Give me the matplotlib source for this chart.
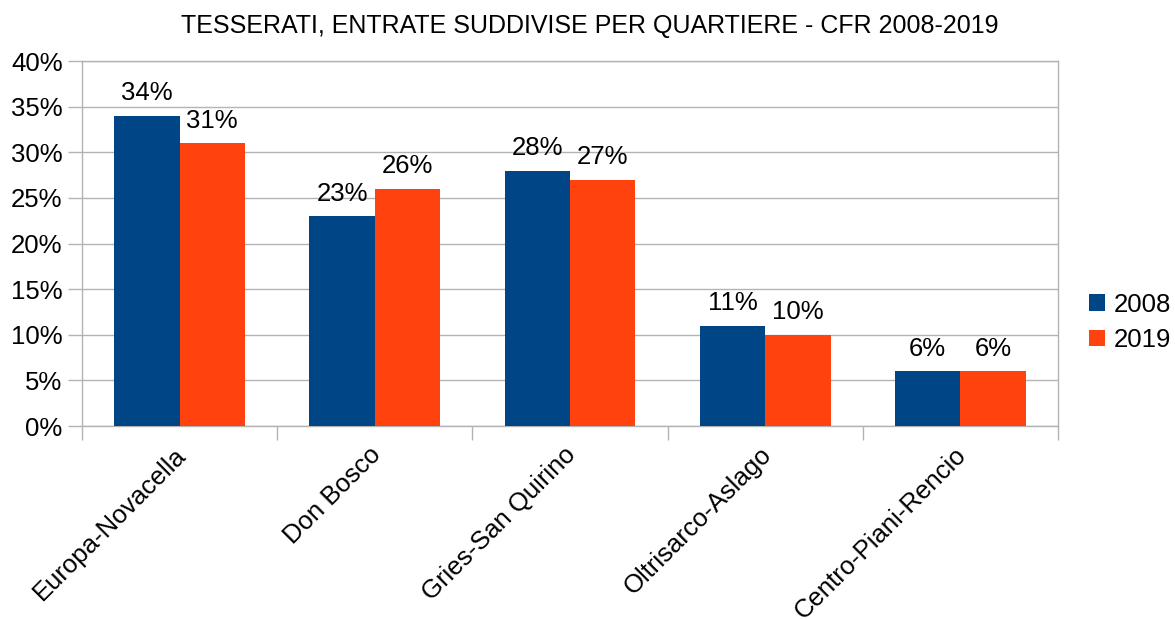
import numpy as np
import matplotlib.pyplot as plt
from matplotlib.transforms import ScaledTranslation

categories = ["Europa-Novacella", "Don Bosco", "Gries-San Quirino", "Oltrisarco-Aslago", "Centro-Piani-Rencio"]
years = ["2008", "2019"]
vals_2008 = [34, 23, 28, 11, 6]
vals_2019 = [31, 26, 27, 10, 6]
colors = ["#004586", "#ff420e"]

plt.rcParams['font.family'] = ['Liberation Sans', 'DejaVu Sans']

fig = plt.figure(figsize=(11.75, 6.2), dpi=100)
ax = fig.add_axes([0.0698, 0.3129, 0.8306, 0.5887])

x = np.arange(len(categories))
w = 0.335
grid_c = "#b3b3b3"

bars = []
for i, (vals, year) in enumerate(zip([vals_2008, vals_2019], years)):
    b = ax.bar(x + (i - 0.5) * w, vals, w, color=colors[i], label=year, zorder=3)
    bars.append(b)
    ax.bar_label(b, labels=[f"{v}%" for v in vals], padding=7.5, fontsize=18.5, zorder=4)

ax.set_xlim(-0.5, len(categories) - 0.5)
ax.set_ylim(0, 40)
ax.set_yticks(range(0, 41, 5))
ax.set_yticklabels([f"{t}%" for t in range(0, 41, 5)], fontsize=18.5)
ax.yaxis.grid(True, color=grid_c, linewidth=1, zorder=0)

# ticks at category boundaries, labels in the middle
ax.set_xticks(np.arange(-0.5, len(categories), 1.0))
ax.set_xticklabels([])
ax.set_xticks(x, minor=True)
ax.set_xticklabels(categories, minor=True, rotation=45, ha='right', va='top',
                   rotation_mode='anchor', fontsize=18.5)
ax.tick_params(axis='x', which='minor', length=0, pad=12)
ax.tick_params(axis='x', which='major', length=10, color=grid_c, width=1)
ax.tick_params(axis='y', length=10, color=grid_c, width=1, pad=4)
shift = ScaledTranslation(-0.06, 0, fig.dpi_scale_trans)
for lab in ax.get_xticklabels(minor=True):
    lab.set_transform(lab.get_transform() + shift)

for s in ax.spines.values():
    s.set_color(grid_c)
    s.set_linewidth(1)

fig.text(0.502, 0.958, "TESSERATI, ENTRATE SUDDIVISE PER QUARTIERE - CFR 2008-2019",
         ha='center', va='center', fontsize=18)

fig.legend(handles=bars, labels=years, loc='center left', bbox_to_anchor=(0.927, 0.48),
           frameon=False, fontsize=18.5, handlelength=0.6, handleheight=0.6,
           handletextpad=0.35, labelspacing=0.45, borderaxespad=0, borderpad=0)

fig.savefig("out.png", dpi=100)
